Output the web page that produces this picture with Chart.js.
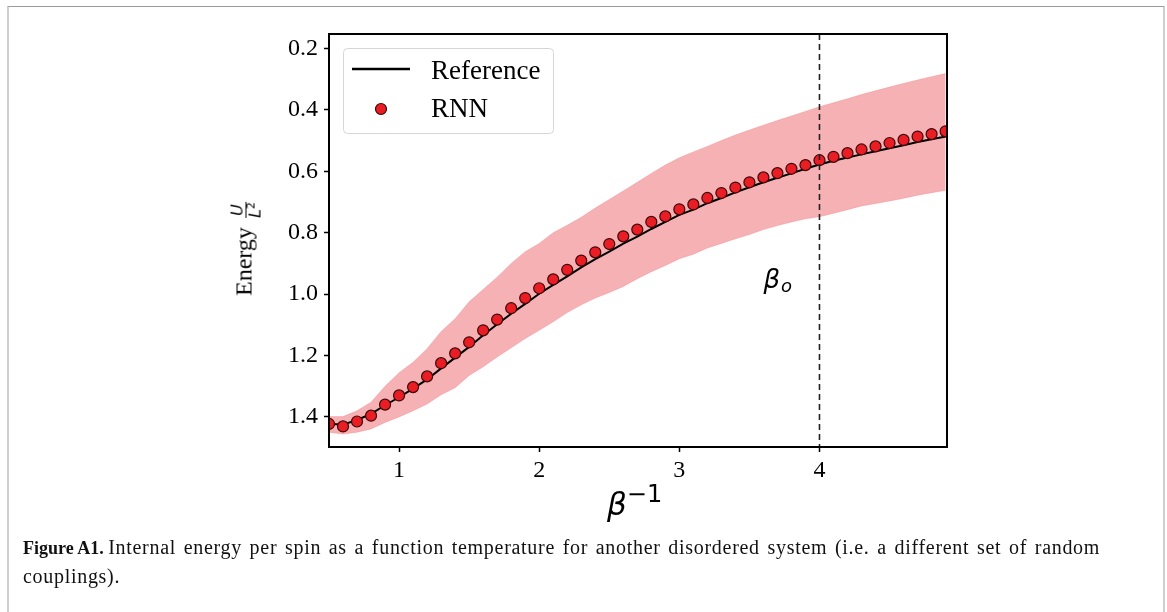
<!DOCTYPE html>
<html>
<head>
<meta charset="utf-8">
<script src="https://cdn.jsdelivr.net/npm/chart.js@4.4.0/dist/chart.umd.min.js"></script>
<style>
  html, body { margin: 0; padding: 0; background: #fff; }
  #page { position: relative; width: 1167px; height: 612px; overflow: hidden; font-family: 'Liberation Serif', 'Times New Roman', serif; }
  #frame { position: absolute; left: 7px; top: 6px; width: 1158px; height: 700px; box-sizing: border-box;
           border-top: 1px solid #9a9a9a; border-left: 2px solid #cfcfcf; border-right: 2px solid #cfcfcf; }
  #chart { position: absolute; left: 0; top: 0; }
  .ylab { position: absolute; left: 246px; top: 249px; transform: translate(-50%, -50%) rotate(-90deg);
          white-space: nowrap; font-size: 24px; color: #000; }
  .frac { display: inline-block; vertical-align: middle; text-align: center; font-family: 'DejaVu Sans', sans-serif;
          font-style: italic; font-size: 16px; line-height: 17px; margin-left: 3px; }
  .frac .num { display: block; border-bottom: 1px solid #000; padding: 0 1px; }
  .frac .den { display: block; }
  .frac sup { font-size: 11px; font-style: normal; vertical-align: 6px; line-height: 0; }
  .xlab { position: absolute; left: 607px; top: 486px; font-family: 'DejaVu Sans', sans-serif; font-size: 31px; color: #000; white-space: nowrap; }
  .xlab i { font-style: italic; }
  .xlab sup { font-size: 24px; vertical-align: 13px; line-height: 0; }
  #caption { position: absolute; left: 23px; top: 533px; font-size: 18px; line-height: 28px; color: #111; white-space: nowrap; }
  #caption .body { font-size: 20px; letter-spacing: 0.7px; word-spacing: 2px; }
</style>
</head>
<body>
<div id="page">
  <div id="frame"></div>
  <canvas id="chart" width="1167" height="612"></canvas>
  <div class="ylab">Energy <span class="frac"><span class="num">U</span><span class="den">L<sup>2</sup></span></span></div>
  <div class="xlab"><i>β</i><sup>−1</sup></div>
  <div id="caption"><b>Figure A1.</b> <span class="body">Internal energy per spin as a function temperature for another disordered system (i.e. a different set of random<br>couplings).</span></div>
</div>
<script>
// temperature grid (beta^-1)
const temps = [0.5, 0.6, 0.7, 0.8, 0.9, 1.0, 1.1, 1.2, 1.3, 1.4, 1.5, 1.6, 1.7, 1.8, 1.9,
               2.0, 2.1, 2.2, 2.3, 2.4, 2.5, 2.6, 2.7, 2.8, 2.9, 3.0, 3.1, 3.2, 3.3, 3.4,
               3.5, 3.6, 3.7, 3.8, 3.9, 4.0, 4.1, 4.2, 4.3, 4.4, 4.5, 4.6, 4.7, 4.8, 4.9];

const referenceEnergy = [1.423, 1.425, 1.410, 1.390, 1.362, 1.336, 1.308, 1.278, 1.242, 1.207, 1.172, 1.134, 1.098, 1.064, 1.032,
                         0.999, 0.970, 0.942, 0.913, 0.886, 0.862, 0.836, 0.813, 0.788, 0.765, 0.742, 0.725, 0.704, 0.687, 0.669,
                         0.652, 0.636, 0.621, 0.607, 0.592, 0.578, 0.566, 0.555, 0.545, 0.535, 0.525, 0.515, 0.505, 0.496, 0.487];

const rnnEnergy = [1.423, 1.431, 1.415, 1.396, 1.360, 1.330, 1.303, 1.268, 1.225, 1.193, 1.157, 1.118, 1.083, 1.046, 1.013,
                   0.981, 0.952, 0.921, 0.891, 0.864, 0.837, 0.812, 0.790, 0.765, 0.747, 0.724, 0.708, 0.687, 0.671, 0.653,
                   0.636, 0.620, 0.606, 0.592, 0.580, 0.564, 0.553, 0.541, 0.529, 0.519, 0.508, 0.498, 0.487, 0.479, 0.470];

// spread of the RNN samples (low / high edge of the shaded band)
const bandLow = [1.399, 1.399, 1.380, 1.352, 1.300, 1.256, 1.222, 1.178, 1.122, 1.080, 1.025, 0.985, 0.945, 0.900, 0.862,
                 0.835, 0.800, 0.776, 0.750, 0.720, 0.692, 0.664, 0.636, 0.607, 0.580, 0.556, 0.537, 0.519, 0.500, 0.482,
                 0.466, 0.450, 0.435, 0.420, 0.405, 0.390, 0.377, 0.364, 0.350, 0.338, 0.326, 0.314, 0.303, 0.292, 0.282];

const bandHigh = [1.450, 1.456, 1.450, 1.439, 1.418, 1.400, 1.380, 1.358, 1.328, 1.305, 1.265, 1.237, 1.205, 1.175, 1.145,
                  1.118, 1.090, 1.060, 1.035, 1.013, 0.995, 0.975, 0.950, 0.927, 0.907, 0.885, 0.870, 0.850, 0.835, 0.820,
                  0.806, 0.790, 0.777, 0.765, 0.755, 0.748, 0.737, 0.725, 0.713, 0.705, 0.697, 0.688, 0.678, 0.670, 0.662];

const xTicks = [1, 2, 3, 4];
const yTicks = [0.2, 0.4, 0.6, 0.8, 1.0, 1.2, 1.4];
const betaO = 4;

function toPoints(xs, ys) {
    return xs.map(function (x, i) { return { x: x, y: ys[i] }; });
}

const bandColor = 'rgba(240, 120, 126, 0.58)';
const tickFont = { family: "'Liberation Serif', 'Times New Roman', serif", size: 24 };

const extras = {
    id: 'extras',
    afterDatasetsDraw(chart) {
        const ctx = chart.ctx;
        const area = chart.chartArea;
        const x = chart.scales.x.getPixelForValue(betaO);
        ctx.save();
        ctx.strokeStyle = '#222';
        ctx.lineWidth = 1.6;
        ctx.setLineDash([6, 4]);
        ctx.beginPath();
        ctx.moveTo(x, area.top);
        ctx.lineTo(x, area.bottom);
        ctx.stroke();
        ctx.restore();
    },
    afterDraw(chart) {
        const ctx = chart.ctx;
        const area = chart.chartArea;
        ctx.save();
        // axes box
        ctx.strokeStyle = '#000';
        ctx.lineWidth = 2;
        ctx.strokeRect(area.left, area.top, area.right - area.left, area.bottom - area.top);

        // beta_o annotation
        const ax = chart.scales.x.getPixelForValue(3.6);
        const ay = chart.scales.y.getPixelForValue(0.98);
        ctx.fillStyle = '#000';
        ctx.textBaseline = 'alphabetic';
        ctx.font = "italic 26px 'DejaVu Sans'";
        ctx.fillText('β', ax, ay);
        const bw = ctx.measureText('β').width;
        ctx.font = "italic 18px 'DejaVu Sans'";
        ctx.fillText('o', ax + bw + 1, ay + 4);

        // legend
        const lx = 343, ly = 48, lw = 210, lh = 85;
        ctx.fillStyle = 'rgba(255,255,255,0.85)';
        ctx.strokeStyle = '#d6d6d6';
        ctx.lineWidth = 1;
        ctx.beginPath();
        ctx.roundRect(lx + 0.5, ly + 0.5, lw, lh, 4);
        ctx.fill();
        ctx.stroke();

        const ref = chart.data.datasets[1];
        const rnn = chart.data.datasets[0];
        ctx.strokeStyle = ref.borderColor;
        ctx.lineWidth = 2.5;
        ctx.beginPath();
        ctx.moveTo(352, 69);
        ctx.lineTo(410, 69);
        ctx.stroke();

        ctx.beginPath();
        ctx.arc(381, 109, rnn.pointRadius, 0, Math.PI * 2);
        ctx.fillStyle = rnn.pointBackgroundColor;
        ctx.fill();
        ctx.lineWidth = rnn.pointBorderWidth;
        ctx.strokeStyle = rnn.pointBorderColor;
        ctx.stroke();

        ctx.fillStyle = '#000';
        ctx.font = "27px 'Liberation Serif'";
        ctx.fillText(ref.label, 431, 79);
        ctx.fillText(rnn.label, 431, 117);
        ctx.restore();
    }
};

new Chart(document.getElementById('chart').getContext('2d'), {
    type: 'line',
    data: {
        datasets: [
            {
                label: 'RNN',
                data: toPoints(temps, rnnEnergy),
                showLine: false,
                pointRadius: 5.5,
                pointBackgroundColor: '#ea1c24',
                pointBorderColor: '#3a0a0a',
                pointBorderWidth: 1.2,
                clip: 0,
                order: 0
            },
            {
                label: 'Reference',
                data: toPoints(temps, referenceEnergy),
                borderColor: '#000',
                borderWidth: 2,
                pointRadius: 0,
                tension: 0,
                order: 1
            },
            {
                label: 'band low',
                data: toPoints(temps, bandLow),
                borderColor: 'rgba(240, 120, 126, 0.35)',
                borderWidth: 1,
                pointRadius: 0,
                fill: false,
                order: 2
            },
            {
                label: 'band high',
                data: toPoints(temps, bandHigh),
                borderColor: 'rgba(240, 120, 126, 0.35)',
                borderWidth: 1,
                pointRadius: 0,
                fill: '-1',
                backgroundColor: bandColor,
                order: 3
            }
        ]
    },
    options: {
        responsive: false,
        animation: false,
        layout: { padding: { left: 0, top: 34, right: 220, bottom: 120 } },
        plugins: {
            legend: { display: false },
            tooltip: { enabled: false }
        },
        scales: {
            x: {
                type: 'linear',
                min: 0.5,
                max: 4.91,
                afterFit: function (scale) { scale.height = 45; },
                afterBuildTicks: function (scale) { scale.ticks = xTicks.map(function (v) { return { value: v }; }); },
                grid: { display: true, drawOnChartArea: false, drawTicks: true, tickLength: 5, color: '#000', tickWidth: 1.5 },
                border: { display: true, color: '#000', width: 2 },
                ticks: { color: '#000', font: tickFont, padding: 4, maxRotation: 0,
                         callback: function (v) { return String(v); } }
            },
            y: {
                type: 'linear',
                reverse: true,
                min: 0.153,
                max: 1.498,
                afterFit: function (scale) { scale.width = 329; },
                afterBuildTicks: function (scale) { scale.ticks = yTicks.map(function (v) { return { value: v }; }); },
                grid: { display: true, drawOnChartArea: false, drawTicks: true, tickLength: 5, color: '#000', tickWidth: 1.5 },
                border: { display: true, color: '#000', width: 2 },
                ticks: { color: '#000', font: tickFont, padding: 6,
                         callback: function (v) { return Number(v).toFixed(1); } }
            }
        }
    },
    plugins: [extras]
});
</script>
</body>
</html>
